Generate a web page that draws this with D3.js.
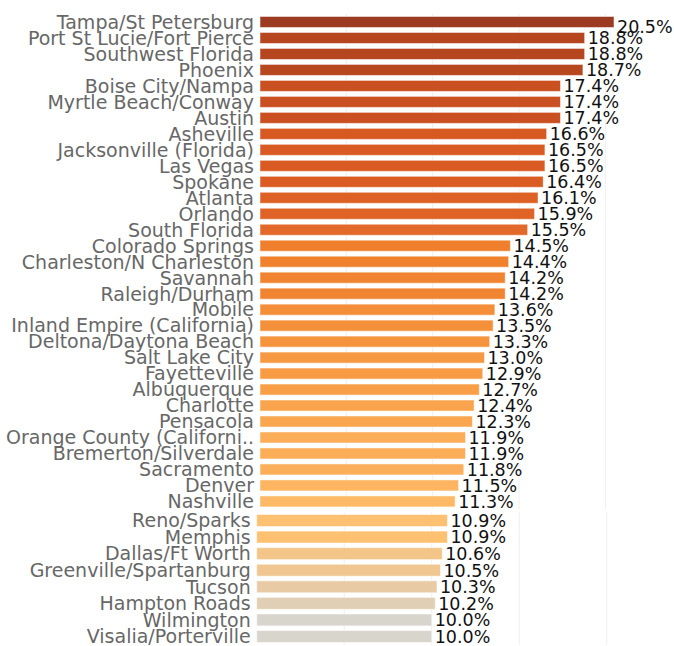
<!DOCTYPE html>
<html>
<head>
<meta charset="utf-8">
<script src="https://cdn.jsdelivr.net/npm/d3@7"></script>
<style>
  html, body { margin: 0; padding: 0; background: #fff; }
  svg { display: block; }
  .cat { font-family: "DejaVu Sans", sans-serif; font-size: 19px; fill: #676767; }
  .val { font-family: "DejaVu Sans", sans-serif; font-size: 17.5px; fill: #111; }
</style>
</head>
<body>
<svg id="chart" width="674" height="646"></svg>
<script>
// Metro areas, upper group
const topCities = [
  "Tampa/St Petersburg", "Port St Lucie/Fort Pierce", "Southwest Florida", "Phoenix",
  "Boise City/Nampa", "Myrtle Beach/Conway", "Austin", "Asheville",
  "Jacksonville (Florida)", "Las Vegas", "Spokane", "Atlanta", "Orlando",
  "South Florida", "Colorado Springs", "Charleston/N Charleston", "Savannah",
  "Raleigh/Durham", "Mobile", "Inland Empire (California)", "Deltona/Daytona Beach",
  "Salt Lake City", "Fayetteville", "Albuquerque", "Charlotte", "Pensacola",
  "Orange County (Californi..", "Bremerton/Silverdale", "Sacramento", "Denver", "Nashville"
];
const topValues = [
  20.5, 18.8, 18.8, 18.7, 17.4, 17.4, 17.4, 16.6, 16.5, 16.5, 16.4, 16.1, 15.9,
  15.5, 14.5, 14.4, 14.2, 14.2, 13.6, 13.5, 13.3, 13.0, 12.9, 12.7, 12.4, 12.3,
  11.9, 11.9, 11.8, 11.5, 11.3
];

// Metro areas, lower group
const bottomCities = [
  "Reno/Sparks", "Memphis", "Dallas/Ft Worth", "Greenville/Spartanburg",
  "Tucson", "Hampton Roads", "Wilmington", "Visalia/Porterville"
];
const bottomValues = [10.9, 10.9, 10.6, 10.5, 10.3, 10.2, 10.0, 10.0];

const gridTicks = [5, 10, 15, 20];

// Value-driven colour ramp: grey-beige -> peach -> orange -> rust
const color = d3.scaleLinear()
  .domain([10.0, 10.2, 10.3, 10.5, 10.9, 11.5, 12.4, 13.5, 14.5, 15.5, 16.5, 17.4, 18.8, 20.5])
  .range(["#d8d6cc", "#e1cfb5", "#e8cba5", "#f1c791", "#fec071", "#fdb561", "#f9a44c",
          "#f5903a", "#ef7f2c", "#e3692a", "#d95a22", "#ca5021", "#b5461f", "#9d3b22"])
  .clamp(true);

const svg = d3.select("#chart");

function drawPanel(cats, vals, opts) {
  const data = cats.map((c, i) => ({ city: c, value: vals[i] }));
  const x = d3.scaleLinear().domain([0, 20.5]).range([opts.x0, opts.x1]);
  const y = d3.scaleBand().domain(cats).range([opts.y0, opts.y1]).paddingInner(opts.pad).paddingOuter(opts.pad / 2);
  const g = svg.append("g");

  // faint vertical gridlines
  g.append("g").selectAll("line").data(gridTicks).join("line")
    .attr("x1", d => x(d)).attr("x2", d => x(d))
    .attr("y1", opts.y0).attr("y2", opts.y1)
    .attr("stroke", "#efefef").attr("stroke-width", 1);

  g.append("g").selectAll("rect").data(data).join("rect")
    .attr("x", x(0))
    .attr("y", d => y(d.city))
    .attr("width", d => x(d.value) - x(0))
    .attr("height", y.bandwidth())
    .attr("fill", d => color(d.value))
    .attr("stroke", "rgba(255,255,255,0.5)")
    .attr("stroke-width", 1);

  g.append("g").selectAll("text").data(data).join("text")
    .attr("class", "cat")
    .attr("x", x(0) - 6)
    .attr("y", d => y(d.city) + y.bandwidth() / 2)
    .attr("dy", "0.36em")
    .attr("text-anchor", "end")
    .text(d => d.city);

  // value labels; optionally kept clear of the panel's top edge
  g.append("g").selectAll("text").data(data).join("text")
    .attr("class", "val")
    .attr("x", d => x(d.value) + 3)
    .attr("y", d => Math.max(y(d.city) + y.bandwidth() / 2, opts.y0 + opts.labelTop))
    .attr("dy", "0.36em")
    .text(d => d.value.toFixed(1) + "%");
}

drawPanel(topCities, topValues, { x0: 260, x1: 614, y0: 14, y1: 509.4, pad: 0.31, labelTop: 13 });
drawPanel(bottomCities, bottomValues, { x0: 256.7, x1: 615.5, y0: 512.2, y1: 644.8, pad: 0.28, labelTop: 0 });
</script>
</body>
</html>
